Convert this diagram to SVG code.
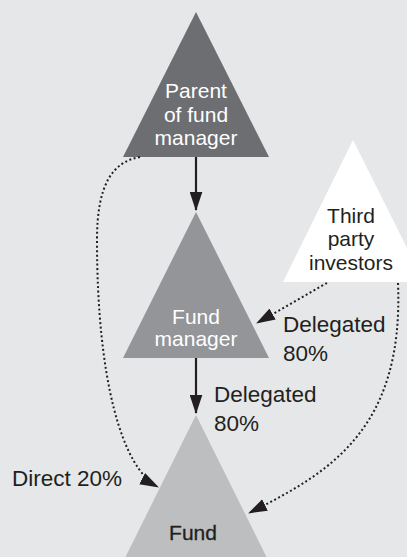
<svg xmlns="http://www.w3.org/2000/svg" width="407" height="557" viewBox="0 0 407 557">
<defs>
<style>
.t{font-family:"Liberation Sans","DejaVu Sans",sans-serif;font-size:21px}
.l{font-size:22.5px}
.w{fill:#ffffff}
.d{fill:#231f20}
.solid{stroke:#231f20;stroke-width:2.2;fill:none}
.dot{stroke:#231f20;stroke-width:2;fill:none;stroke-dasharray:2 2.5}
</style>
<marker id="ah" viewBox="0 0 18 12" refX="17" refY="6" markerWidth="19" markerHeight="13" markerUnits="userSpaceOnUse" orient="auto">
<path d="M0,0 L18,6 L0,12 z" fill="#231f20"/>
</marker>
</defs>
<rect width="407" height="557" fill="#e6e7e8"/>
<g id="parent">
<polygon points="196,12 269,157 123,157" fill="#6d6e71"/>
<text class="t w" text-anchor="middle" x="196" y="98">Parent</text>
<text class="t w" text-anchor="middle" x="196" y="122">of fund</text>
<text class="t w" text-anchor="middle" x="196" y="145">manager</text>
</g>
<g id="fund-manager">
<polygon points="196,212 269,358 123,358" fill="#939598"/>
<text class="t w" text-anchor="middle" x="196" y="324">Fund</text>
<text class="t w" text-anchor="middle" x="196" y="346">manager</text>
</g>
<g id="third-party">
<polygon points="353,140 424,282 283,282" fill="#ffffff"/>
<text class="t d" text-anchor="middle" x="351" y="223">Third</text>
<text class="t d" text-anchor="middle" x="351" y="246">party</text>
<text class="t d" text-anchor="middle" x="351" y="270">investors</text>
</g>
<g id="fund">
<polygon points="196,415 268,560 124,560" fill="#bcbec0"/>
<text class="t d" text-anchor="middle" x="193" y="540" stroke="#231f20" stroke-width="0.3">Fund</text>
</g>
<g id="connectors">
<path class="solid" d="M196,157 L196,210" marker-end="url(#ah)"/>
<path class="solid" d="M196,358 L196,413" marker-end="url(#ah)"/>
<path class="dot" d="M140,157 C112,162 97,185 97,240 C97,380 122,468 158,487" marker-end="url(#ah)"/>
<path class="dot" d="M398,283 C404,430 329,473 249,513" marker-end="url(#ah)"/>
<path class="dot" d="M327,283 L257,323" marker-end="url(#ah)"/>
</g>
<g id="labels">
<text class="t l d" x="283" y="332">Delegated</text>
<text class="t l d" x="283" y="361">80%</text>
<text class="t l d" x="214" y="402">Delegated</text>
<text class="t l d" x="214" y="431">80%</text>
<text class="t l d" x="12" y="486">Direct 20%</text>
</g>
</svg>
